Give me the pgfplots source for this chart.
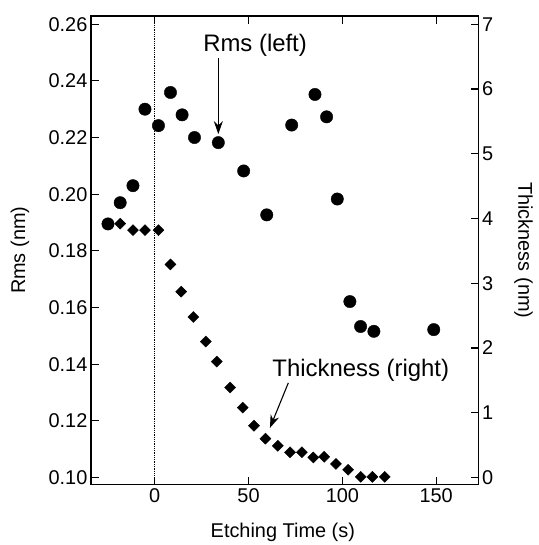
\documentclass[border=0pt]{standalone}
\usepackage{pgfplots}
\pgfplotsset{compat=1.18}
\usetikzlibrary{arrows.meta}
\usepackage{fontspec}
\setmainfont{Liberation Sans}
\begin{document}
\begin{tikzpicture}
\pgfplotsset{every axis/.append style={
  font=\fontsize{20}{24}\selectfont,
  /pgf/number format/assume math mode=true,
  axis line style={line width=1.2pt},
  every tick/.style={line width=1.1pt, black},
  tick align=inside, major tick length=8bp,
  scale only axis, width=388bp, height=469bp,
  xmin=-34, xmax=172.6}}
\begin{axis}[
  ymin=0.0975, ymax=0.2629,
  ytick={0.10,0.12,0.14,0.16,0.18,0.20,0.22,0.24,0.26},
  yticklabel style={/pgf/number format/.cd, fixed, fixed zerofill, precision=2},
  ytick pos=left,
  xtick={0,50,100,150},
  xlabel={Etching Time (s)},
  xlabel style={at={(rel axis cs:0.495,-0.102)}, anchor=center},
  ylabel={Rms (nm)},
  ylabel style={at={(rel axis cs:-0.183,0.5)}, anchor=center},
  clip=false]
\addplot[only marks, mark=*, mark size=6.2bp, black] coordinates {
(-24.9,0.1895) (-18.4,0.197) (-11.6,0.203) (-5.2,0.230) (2.0,0.2242)
(8.4,0.2359) (14.6,0.228) (21.2,0.220) (33.9,0.2182) (47.4,0.2082)
(59.7,0.1927) (73.0,0.2244) (85.4,0.2352) (91.6,0.2273) (97.3,0.1983)
(104.0,0.1621) (109.7,0.1533) (116.8,0.1516) (148.7,0.1522)};
\addplot[densely dotted, line width=0.8pt, black] coordinates {(0,0.0975) (0,0.2629)};
\node[font=\fontsize{24}{28}\selectfont] at (axis cs:53.5,0.2526) {Rms (left)};
\draw[-{Stealth[length=13bp,width=9bp]}, line width=1.1pt] (axis cs:33.9,0.2480) -- (axis cs:33.9,0.2212);
\node[font=\fontsize{24}{28}\selectfont] at (axis cs:109.8,0.138) {Thickness (right)};
\draw[-{Stealth[length=13bp,width=9bp]}, line width=1.1pt] (axis cs:71.2,0.1334) -- (axis cs:61.4,0.1175);
\path (rel axis cs:-0.2345,-0.1279) (rel axis cs:1.1546,1.0341);
\end{axis}
\begin{axis}[
  ymin=-0.109, ymax=7.127,
  axis y line*=right, axis x line=none,
  ytick={0,1,2,3,4,5,6,7},
  ylabel={Thickness (nm)},
  ylabel style={at={(rel axis cs:1.116,0.5)}, anchor=center, rotate=180}]
\addplot[only marks, mark=square*, mark size=3.9bp, mark options={rotate=45}, black] coordinates {
(-25.1,3.92) (-18.4,3.92) (-11.6,3.82) (-5.2,3.82) (2.0,3.82)
(8.4,3.29) (14.1,2.87) (20.6,2.48) (27.2,2.10) (33.1,1.79)
(40.2,1.39) (46.9,1.08) (52.9,0.80) (59.0,0.60) (65.6,0.49)
(72.1,0.39) (78.4,0.39) (84.5,0.31) (90.3,0.32) (96.6,0.21)
(103.1,0.12) (109.8,0.01) (116.0,0.01) (122.6,0.01)};
\end{axis}
\end{tikzpicture}
\end{document}
